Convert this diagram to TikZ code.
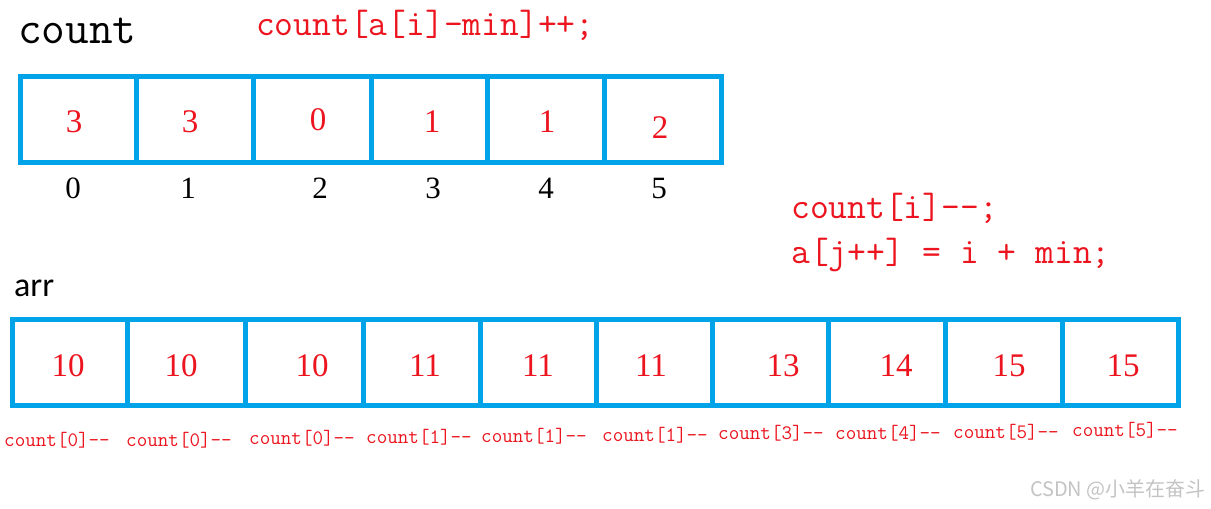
\documentclass[tikz,border=0pt]{standalone}
\usepackage{fontspec}
\setmainfont{Liberation Serif}
\newfontfamily\calib{Carlito}
\newfontfamily\cjk{Noto Sans CJK SC}
\definecolor{cblue}{RGB}{0,162,232}
\definecolor{cred}{RGB}{236,20,30}
\definecolor{wm}{RGB}{195,195,195}
\begin{document}
\begin{tikzpicture}[x=1pt,y=-1pt,
  cellbox/.style={draw=cblue,line width=5pt},
  val/.style={text=cred,font=\fontsize{33}{33}\selectfont,inner sep=0pt},
  idx/.style={text=black,font=\fontsize{31}{31}\selectfont,inner sep=0pt},
  code/.style={text=cred,font=\ttfamily\fontsize{36.5}{36.5}\selectfont,inner sep=0pt,anchor=west},
  small/.style={text=cred,font=\ttfamily\fontsize{20.5}{20.5}\selectfont,inner sep=0pt}]
\useasboundingbox (0,0) rectangle (1211,509);
% titles
\node[font=\ttfamily\fontsize{46}{46}\selectfont,anchor=west,inner sep=0pt] (tcount) at (18,31) {count};
\node[code] (c1) at (256,25) {count[a[i]-min]++;};
\node[code] (c2) at (791,208) {count[i]--;};
\node[code] (c3) at (791,255) {a[j++] = i + min;};
\node[font=\calib\fontsize{34}{34}\selectfont,anchor=west,inner sep=0pt] (tarr) at (14,288) {arr};
% top array
\foreach \l/\r [count=\k] in {20/136,136/253,253/371,371/487,487/604,604/721}
  \draw[cellbox] (\l,76) rectangle (\r,162);
\foreach \x/\y/\v [count=\k] in {74/122/3,190/122/3,318/120/0,432/122/1,547/122/1,660/128/2}
  \node[val] (tv\k) at (\x,\y) {\v};
\foreach \x/\v [count=\k] in {73/0,188/1,320/2,433/3,546/4,659/5}
  \node[idx] (ti\k) at (\x,188) {\v};
% bottom array
\foreach \l/\r in {12/127,127/245,245/363,363/480,480/596,596/712,712/828,828/945,945/1062,1062/1178}
  \draw[cellbox] (\l,319) rectangle (\r,405);
\foreach \x/\v [count=\k] in {68/10,181/10,312/10,425/11,538/11,651/11,783/13,896/14,1009/15,1123/15}
  \node[val] (bv\k) at (\x,366) {\v};
\foreach \x/\y/\v [count=\k] in {57/440/0,179/440/0,302/438/0,419/437/1,534/436/1,655/435/1,771/433/3,888/433/4,1006/432/5,1125/430/5}
  \node[small] (bl\k) at (\x,\y) {count[\v]--};
% watermark
\node[text=wm,font=\cjk\fontsize{20}{20}\selectfont,anchor=east,inner sep=0pt] (wmk) at (1206,490) {CSDN @小羊在奋斗};
\end{tikzpicture}
\end{document}
